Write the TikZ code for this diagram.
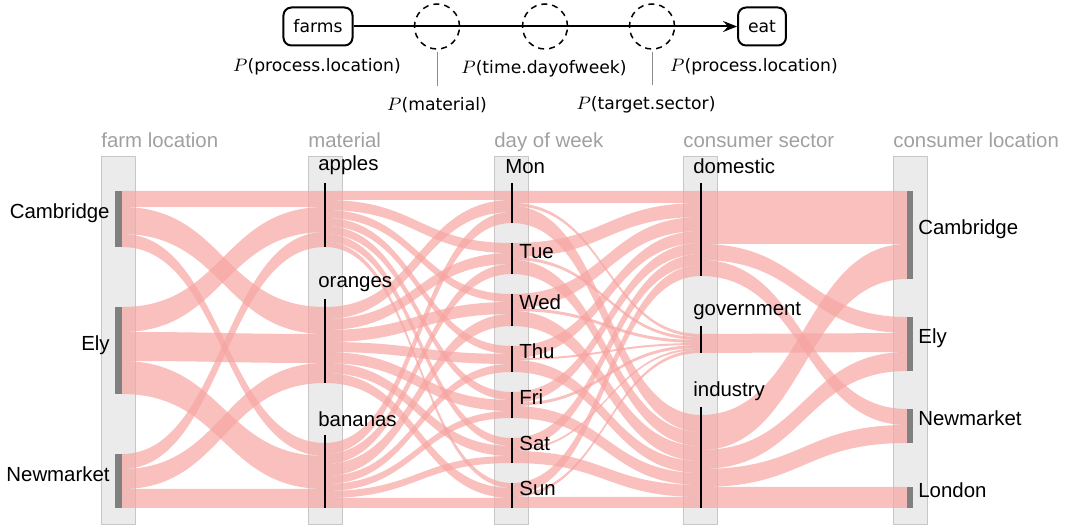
\documentclass[tikz,border=0pt]{standalone}
\usepackage{fontspec}
\setmainfont{Liberation Sans}
\newfontfamily\topfont{DejaVu Sans}
\usetikzlibrary{arrows.meta}
\definecolor{flowpink}{RGB}{246,165,162}
\definecolor{titlegray}{RGB}{160,160,160}
\tikzset{
	flow/.style={fill=flowpink, fill opacity=0.7},
	col/.style={fill=black!8, draw=black!22, line width=0.5pt},
	bar/.style={fill=black!50},
	nodeline/.style={line width=1pt},
	lbl/.style={inner sep=0pt, font=\fontsize{10.2}{12}\selectfont},
	ttl/.style={inner sep=0pt, anchor=base west, text=titlegray, font=\fontsize{10.2}{12}\selectfont},
	box/.style={draw, rounded corners=4pt, line width=1pt, minimum height=19pt, inner xsep=5pt, font=\topfont\fontsize{8.6}{10}\selectfont},
	hole/.style={draw, dashed, dash pattern=on 3pt off 2.5pt, circle, minimum size=22.5pt, inner sep=0pt, line width=0.75pt},
	plbl/.style={font=\topfont\fontsize{8.6}{10}\selectfont},
	leader/.style={draw=black!45, line width=0.4pt, shorten <=1pt, shorten >=2.3pt}
}
% band from (x1,y1) to (x2,y2), width h
\newcommand{\sflow}[5]{%
	\fill[flow] (#1,#3) .. controls ({(#1+#2)/2},#3) and ({(#1+#2)/2},#4) .. (#2,#4)
	-- (#2,#4+#5) .. controls ({(#1+#2)/2},#4+#5) and ({(#1+#2)/2},#3+#5) .. (#1,#3+#5) -- cycle;}
\begin{document}
\begin{tikzpicture}[x=0.5pt, y=-0.5pt, line join=round, >={Stealth[length=7pt,width=5.5pt,inset=2.5pt]}]
	\useasboundingbox (0,0) rectangle (1067,529);
	% mo hinh o tren
	\node[hole] (c1) at (437,26.5) {};
	\node[hole] (c2) at (545,26.5) {};
	\node[hole] (c3) at (652,26.5) {};
	\node[box] (farms) at (318,26.5) {farms};
	\node[box] (eat) at (762,26.5) {eat};
	\draw[->, line width=1pt] (farms) -- (eat);
	\node[plbl] (pl1) at (317,66.5) {$P$(process.location)};
	\node[plbl] (pt) at (544,68.5) {$P$(time.dayofweek)};
	\node[plbl] (pl2) at (754,66.5) {$P$(process.location)};
	\node[plbl] (pm) at (437,105) {$P$(material)};
	\node[plbl] (ps) at (646,105) {$P$(target.sector)};
	\draw[leader] (c1.south) -- (c1.south |- pm.north);
	\draw[leader] (c3.south) -- (c3.south |- ps.north);
	% cot
	\foreach \x/\t/\n in {101/farm location/tf, 308/material/tm, 494/day of week/td, 683/consumer sector/ts, 893/consumer location/tc}{
		\draw[col] (\x,157) rectangle (\x+34,525);
		\node[ttl] (\n) at (\x,148) {\t};
	}
	% dong chay
	\foreach \ya/\yb/\h in {191/191/16, 207/307/27, 234/443/13, 307/207/25, 332/334/29, 361/456/33, 454/232/15, 469/363/20, 489/489/19}
		\sflow{122}{325}{\ya}{\yb}{\h};
	\foreach \ya/\yb/\h in {191/191/9, 200/243/10, 210/294/8, 218/346/8, 226/392/8, 234/438/8, 242/483/5,
		307/200/12, 319/253/11, 330/302/12, 342/354/10, 352/400/11, 363/446/10, 373/488/10,
		443/212/11, 454/264/10, 464/314/12, 476/364/8, 484/411/7, 491/456/7, 498/498/10}
		\sflow{325}{512}{\ya}{\yb}{\h};
	\foreach \ya/\yb/\h in {191/191/12, 203/334/3, 206/415/17, 243/203/14, 257/337/3, 260/432/14,
		294/217/14, 308/340/3, 311/446/15, 346/231/12, 358/343/2, 360/461/12,
		392/243/11, 403/345/3, 406/473/12, 438/254/11, 449/348/2, 451/485/12,
		483/265/11, 494/350/3, 497/497/11}
		\sflow{512}{701}{\ya}{\yb}{\h};
	\foreach \ya/\yb/\h in {191/191/53, 244/317/16, 260/409/16, 334/333/19, 415/244/35, 450/352/19, 469/425/18, 487/487/21}
		\sflow{701}{907}{\ya}{\yb}{\h};
	% nut
	\foreach \ya/\yb/\t/\n in {191/247/Cambridge/fC, 307/394/Ely/fE, 454/508/Newmarket/fN}{
		\fill[bar] (115,\ya) rectangle (122,\yb);
		\node[lbl, anchor=base east] (\n) at (110,{(\ya+\yb)/2}) {\t};
	}
	\foreach \ya/\yb/\t/\n in {191/279/Cambridge/cC, 317/371/Ely/cE, 409/443/Newmarket/cN, 487/508/London/cL}{
		\fill[bar] (907,\ya) rectangle (913,\yb);
		\node[lbl, anchor=base west] (\n) at (918,{(\ya+\yb)/2}) {\t};
	}
	\foreach \ya/\yb/\yt/\t/\n in {183/247/171/apples/mA, 299/383/288/oranges/mO, 435/508/427/bananas/mB}{
		\draw[nodeline] (325,\ya) -- (325,\yb);
		\node[lbl, anchor=base west] (\n) at (318,\yt) {\t};
	}
	\draw[nodeline] (512,183) -- (512,223);
	\node[lbl, anchor=base west] (dMon) at (505,174) {Mon};
	\foreach \ya/\yb/\t in {243/274/Tue, 294/326/Wed, 346/372/Thu, 392/418/Fri, 438/463/Sat, 483/508/Sun}{
		\draw[nodeline] (512,\ya) -- (512,\yb);
		\node[lbl, anchor=base west] (d\t) at (519,{(\ya+\yb)/2}) {\t};
	}
	\foreach \ya/\yb/\yt/\t/\n in {183/276/174/domestic/sD, 326/353/316/government/sG, 407/508/397/industry/sI}{
		\draw[nodeline] (701,\ya) -- (701,\yb);
		\node[lbl, anchor=base west] (\n) at (693,\yt) {\t};
	}
\end{tikzpicture}
\end{document}
